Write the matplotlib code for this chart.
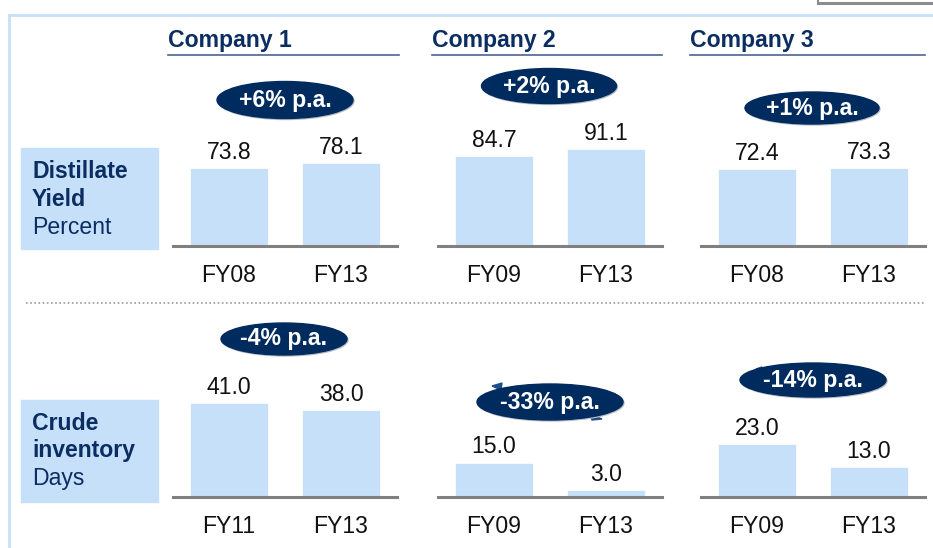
import matplotlib.pyplot as plt
from matplotlib.patches import Ellipse, Rectangle, Polygon

plt.rcParams['font.family'] = ['Liberation Sans', 'DejaVu Sans']

companies = ["Company 1", "Company 2", "Company 3"]
yield_years = [["FY08", "FY13"], ["FY09", "FY13"], ["FY08", "FY13"]]
yield_values = [[73.8, 78.1], [84.7, 91.1], [72.4, 73.3]]
yield_growth = ["+6% p.a.", "+2% p.a.", "+1% p.a."]
inv_years = [["FY11", "FY13"], ["FY09", "FY13"], ["FY09", "FY13"]]
inv_values = [[41.0, 38.0], [15.0, 3.0], [23.0, 13.0]]
inv_growth = ["-4% p.a.", "-33% p.a.", "-14% p.a."]

NAVY = "#0b2d62"
BLUE = "#c6e0f9"
GREY = "#808080"
FS = 16.6
W, H = 933, 548

fig = plt.figure(figsize=(W / 100, H / 100), dpi=100)

# background layer in pixel coordinates
bg = fig.add_axes([0, 0, 1, 1])
bg.set_xlim(0, W)
bg.set_ylim(H, 0)
bg.axis('off')

# frame
bg.plot([9, W], [15, 15], color=BLUE, lw=2)
bg.plot([9, 9], [15, H], color=BLUE, lw=2)
bg.plot([818, W], [3, 3], color="#8c8c8c", lw=2.2)
bg.plot([818, 818], [0, 3], color="#8c8c8c", lw=1.5)

# company headers
head_left = [168, 432, 690]
head_right = [399, 662, 925]
for name, x0, x1 in zip(companies, head_left, head_right):
    bg.text(x0, 41, name, fontsize=FS, fontweight='bold', color=NAVY,
            ha='left', va='center')
    bg.plot([x0, x1], [55, 55], color="#4a6592", lw=1.2)

# row label boxes
bg.add_patch(Rectangle((21, 148), 137, 101, color=BLUE))
bg.text(32, 172, "Distillate", fontsize=FS, fontweight='bold', color=NAVY, va='center')
bg.text(32, 200, "Yield", fontsize=FS, fontweight='bold', color=NAVY, va='center')
bg.text(32, 228, "Percent", fontsize=FS, color=NAVY, va='center')

bg.add_patch(Rectangle((21, 400), 137, 102, color=BLUE))
bg.text(32, 424, "Crude", fontsize=FS, fontweight='bold', color=NAVY, va='center')
bg.text(32, 451, "inventory", fontsize=FS, fontweight='bold', color=NAVY, va='center')
bg.text(32, 479, "Days", fontsize=FS, color=NAVY, va='center')

# separator
bg.plot([26, 925], [303, 303], color="#9a9a9a", lw=1.2, ls=(0, (1, 1.5)))

panel_left = [173, 438, 701]


def panel(x, base, px_per_unit, ymax, years, values):
    h = ymax * px_per_unit
    ax = fig.add_axes([x / W, 1 - base / H, 224 / W, h / H])
    ax.patch.set_alpha(0)
    ax.bar([0, 1], values, width=0.705, color=BLUE, edgecolor='white', lw=0.5)
    for i, v in enumerate(values):
        ax.annotate(f"{v:.1f}", (i, v), xytext=(0, 6.5), textcoords='offset points',
                    ha='center', va='baseline', fontsize=FS, color='#111111')
    ax.set_xlim(-0.5, 1.5)
    ax.set_ylim(0, ymax)
    ax.set_xticks([0, 1])
    ax.set_xticklabels(years, fontsize=FS, color='#111111')
    ax.set_yticks([])
    for s in ['top', 'left', 'right']:
        ax.spines[s].set_visible(False)
    ax.spines['bottom'].set_color(GREY)
    ax.spines['bottom'].set_linewidth(2.2)
    ax.tick_params(axis='x', length=0, pad=13)
    return ax


for i in range(3):
    panel(panel_left[i], 246, 1.06, 100, yield_years[i], yield_values[i])
    panel(panel_left[i], 497, 2.3, 50, inv_years[i], inv_values[i])

# little arrow heads peeking out from behind the bottom ellipses
for pts in [[(492, 386), (502, 383), (501, 390)],
            [(590, 414), (602, 419), (592, 420)],
            [(756, 369), (762, 367), (762, 372)]]:
    bg.add_patch(Polygon(pts, closed=True, color="#1f4f8a", zorder=3))

# growth ellipses
top_ell = [(285, 100, 136, 37), (549, 86, 135, 35), (812, 108, 134, 32)]
bot_ell = [(284, 339, 126, 32), (550, 402, 146, 36), (813, 380, 146, 34)]
for labels, ells in [(yield_growth, top_ell), (inv_growth, bot_ell)]:
    for lab, (cx, cy, w, h) in zip(labels, ells):
        bg.add_patch(Ellipse((cx + 1, cy + 1), w, h, color="#b9bec6", zorder=3))
        bg.add_patch(Ellipse((cx, cy), w, h, color="#002b5e", zorder=4))
        bg.text(cx, cy, lab, fontsize=FS, fontweight='bold', color='white',
                ha='center', va='center', zorder=5)

fig.savefig("out.png", dpi=100)
